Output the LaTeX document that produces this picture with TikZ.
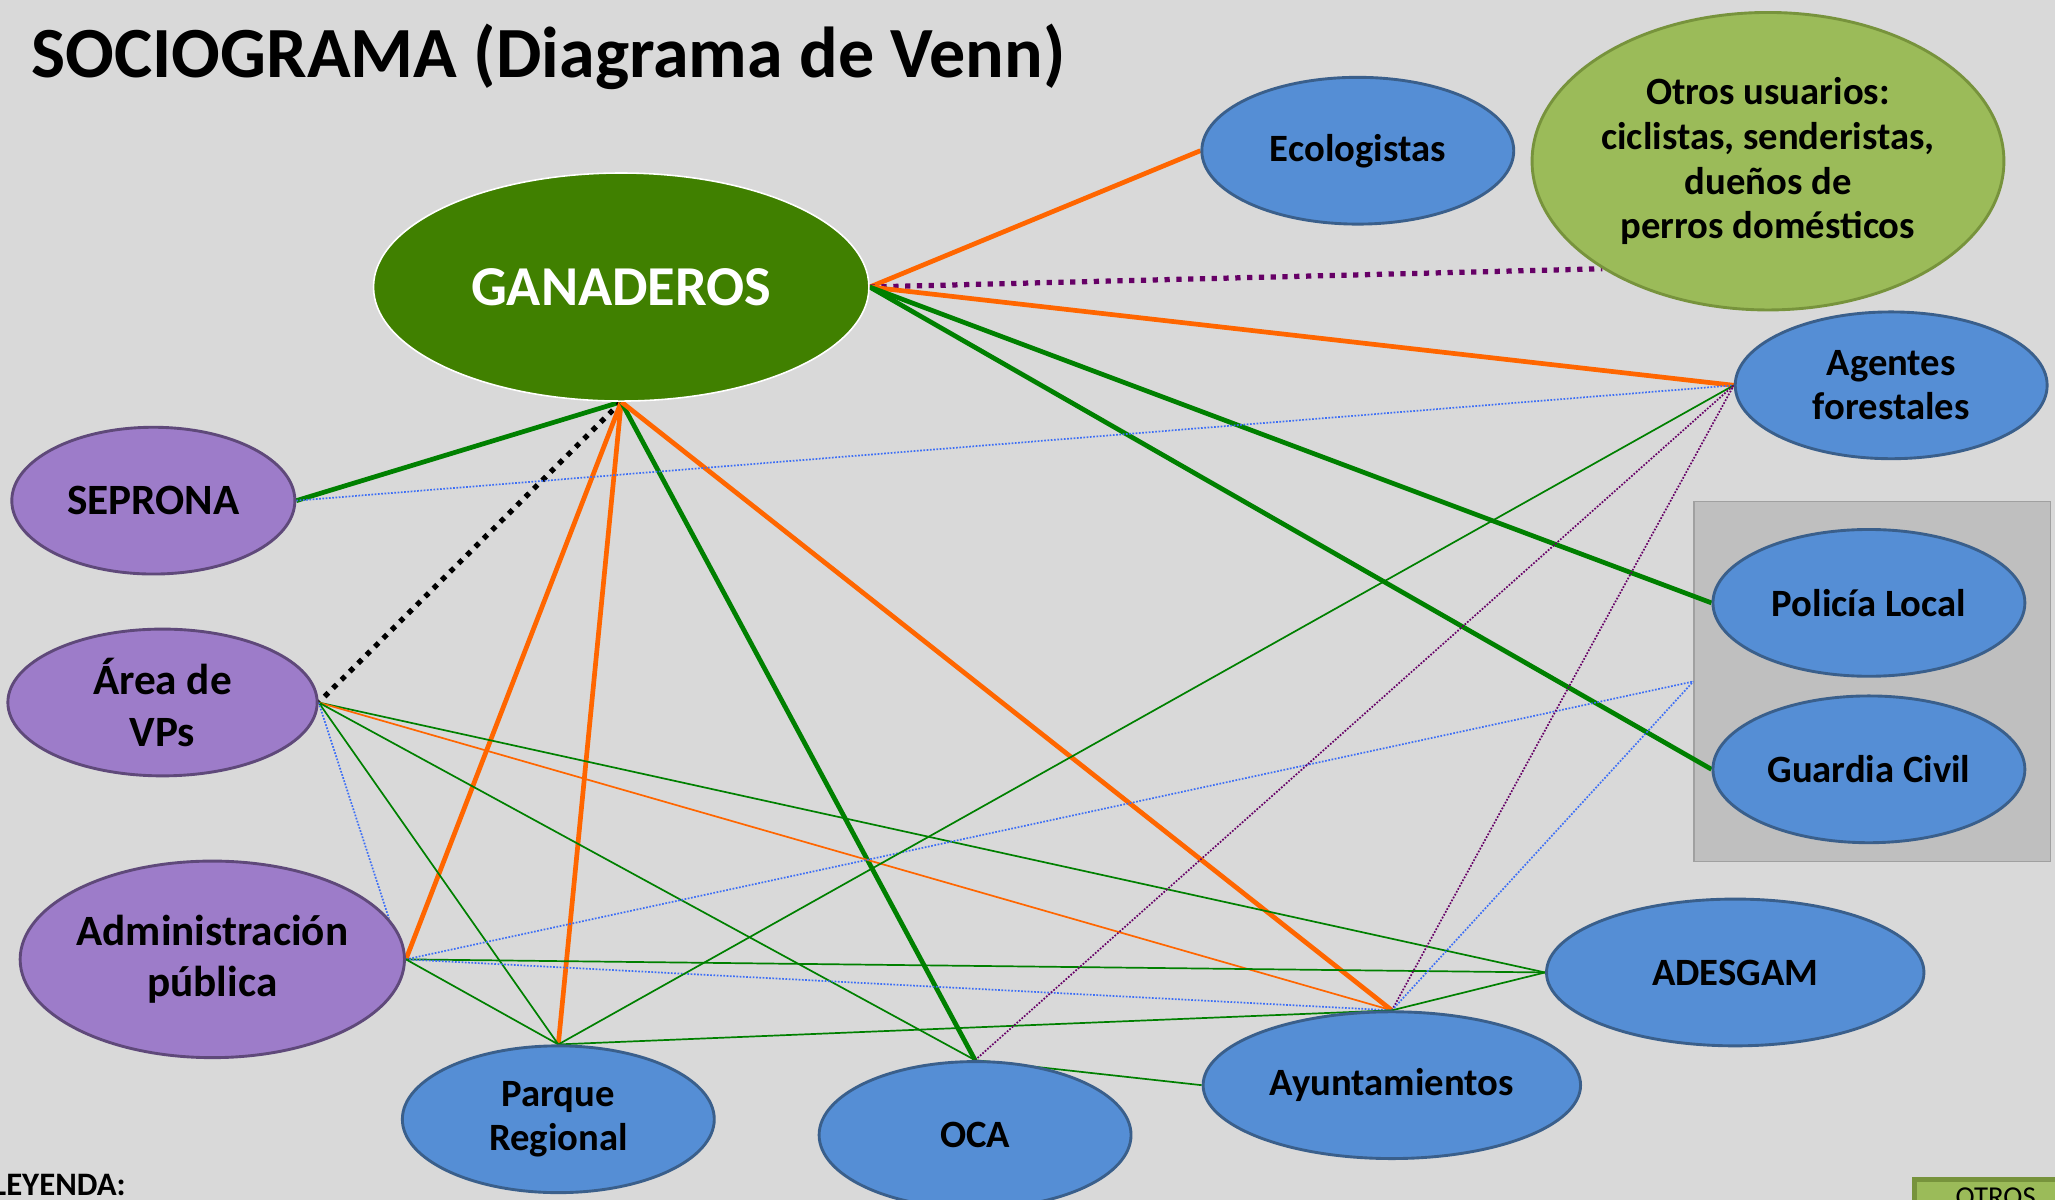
\documentclass[tikz,border=0pt]{standalone}
\usepackage{fontspec}
\setmainfont{Carlito}
\usetikzlibrary{shapes.geometric, backgrounds}

\definecolor{pagegray}{HTML}{D9D9D9}
\definecolor{ganfill}{HTML}{408000}
\definecolor{nodeblue}{HTML}{558ED5}
\definecolor{blueline}{HTML}{3A5F8B}
\definecolor{nodepurple}{HTML}{9D7CC9}
\definecolor{purpleline}{HTML}{5F497A}
\definecolor{otrosfill}{HTML}{9BBB59}
\definecolor{otrosline}{HTML}{77933C}
\definecolor{boxfill}{HTML}{BFBFBF}
\definecolor{boxline}{HTML}{A0A0A0}
\definecolor{lorange}{HTML}{FF6600}
\definecolor{lgreen}{HTML}{008000}
\definecolor{lpurple}{HTML}{660066}
\definecolor{lblue}{HTML}{3D6EF5}

\newcommand{\nodefont}{\fontsize{29.5}{34}\selectfont\bfseries}
\newcommand{\bignodefont}{\fontsize{33}{39}\selectfont\bfseries}

\begin{document}
\begin{tikzpicture}[
  x=1pt, y=-1pt,
  every text node part/.style={align=center},
  actor/.style={ellipse, draw, line width=2.2pt, inner sep=0pt},
  bluesty/.style={actor, fill=nodeblue, draw=blueline, minimum width=238pt, minimum height=112pt, font=\nodefont},
  purplesty/.style={actor, fill=nodepurple, draw=purpleline, minimum height=112pt, font=\bignodefont},
  strong/.style={line width=3.6pt},
  weak/.style={line width=1.3pt},
  bigdots/.style={line width=4pt, dash pattern=on 4pt off 5pt},
  smalldots/.style={line width=1.3pt, dash pattern=on 1.3pt off 1.2pt}
]
\useasboundingbox (0,0) rectangle (1568,915.6);
\clip (0,0) rectangle (1568,915.6);

\node[anchor=base west, inner sep=0pt, font=\fontsize{55}{62}\selectfont\bfseries] (title) at (24,59) {SOCIOGRAMA (Diagrama de Venn)};

% actors
\node[actor, fill=ganfill, draw=white, line width=1.2pt, minimum width=378pt, minimum height=174pt,
  text=white, font=\fontsize{43}{50}\selectfont\bfseries] (gan) at (474,219) {GANADEROS};
\node[bluesty] (eco) at (1036,115) {Ecologistas};
\node[actor, fill=otrosfill, draw=otrosline, minimum width=356pt, minimum height=227pt, font=\nodefont] (otros) at (1349,123)
  {Otros usuarios:\\ciclistas, senderistas,\\dueños de\\perros domésticos};
\node[bluesty] (agentes) at (1443,294) {Agentes\\forestales};
\node[bluesty] (policia) at (1426,460) {Policía Local};
\node[bluesty] (guardia) at (1426,587) {Guardia Civil};
\node[bluesty, minimum width=288pt] (adesgam) at (1324,742) {ADESGAM};
\node[bluesty, minimum width=288pt] (ayto) at (1062,828) {Ayuntamientos};
\node[bluesty] (oca) at (744,866) {OCA};
\node[bluesty] (parque) at (426,854) {Parque\\Regional};

\node[purplesty, minimum width=216pt] (seprona) at (117,382) {SEPRONA};
\node[purplesty, minimum width=236pt] (vps) at (124,536) {Área de\\VPs};
\node[purplesty, minimum width=292pt, minimum height=150pt] (admin) at (162,732) {Administración\\pública};

\begin{scope}[on background layer]
  \fill[pagegray] (0,0) rectangle (1568,915.6);
  \node[draw=boxline, fill=boxfill, line width=1pt, inner sep=0pt, minimum width=272pt, minimum height=275pt] (grupo) at (1428.5,520) {};

  % strong ties from ganaderos
  \draw[strong, lorange] (gan.east) -- (eco.west);
  \draw[bigdots, lpurple] (gan.east) -- (otros.213);
  \draw[strong, lorange] (gan.east) -- (agentes.west);
  \draw[strong, lgreen] (gan.east) -- (policia.west);
  \draw[strong, lgreen] (gan.east) -- (guardia.west);
  \draw[strong, lgreen] (gan.south) -- (seprona.east);
  \draw[bigdots, black] (gan.south) -- (vps.east);
  \draw[strong, lorange] (gan.south) -- (admin.east);
  \draw[strong, lorange] (gan.south) -- (parque.north);
  \draw[strong, lgreen] (gan.south) -- (oca.north);
  \draw[strong, lorange] (gan.south) -- (ayto.north);

  % weak ties
  \draw[smalldots, lblue] (seprona.east) -- (agentes.west);
  \draw[weak, lgreen] (vps.east) -- (adesgam.west);
  \draw[weak, lorange] (vps.east) -- (ayto.north);
  \draw[weak, lgreen] (vps.east) -- (oca.north);
  \draw[weak, lgreen] (vps.east) -- (parque.north);
  \draw[smalldots, lblue] (vps.east) -- (admin.13);
  \draw[smalldots, lblue] (admin.east) -- (grupo.west);
  \draw[weak, lgreen] (admin.east) -- (adesgam.west);
  \draw[smalldots, lblue] (admin.east) -- (ayto.north);
  \draw[weak, lgreen] (admin.east) -- (parque.north);
  \draw[weak, lgreen] (parque.north) -- (agentes.west);
  \draw[weak, lgreen] (parque.north) -- (ayto.north);
  \draw[smalldots, lpurple] (oca.north) -- (agentes.west);
  \draw[weak, lgreen] (oca.north) -- (ayto.west);
  \draw[smalldots, lpurple] (ayto.north) -- (agentes.west);
  \draw[smalldots, lblue] (ayto.north) -- (grupo.west);
  \draw[weak, lgreen] (ayto.north) -- (adesgam.west);
\end{scope}

% legend
\node[anchor=base west, inner sep=0pt, font=\fontsize{25}{30}\selectfont\bfseries] (leyenda) at (-6,912) {LEYENDA:};
\draw[fill=otrosfill, draw=otrosline, line width=4pt] (1461,900) rectangle (1640,980);
\node[anchor=north west, inner sep=0pt, font=\fontsize{22}{26}\selectfont] (otroslbl) at (1492,906) {OTROS};

\end{tikzpicture}
\end{document}
